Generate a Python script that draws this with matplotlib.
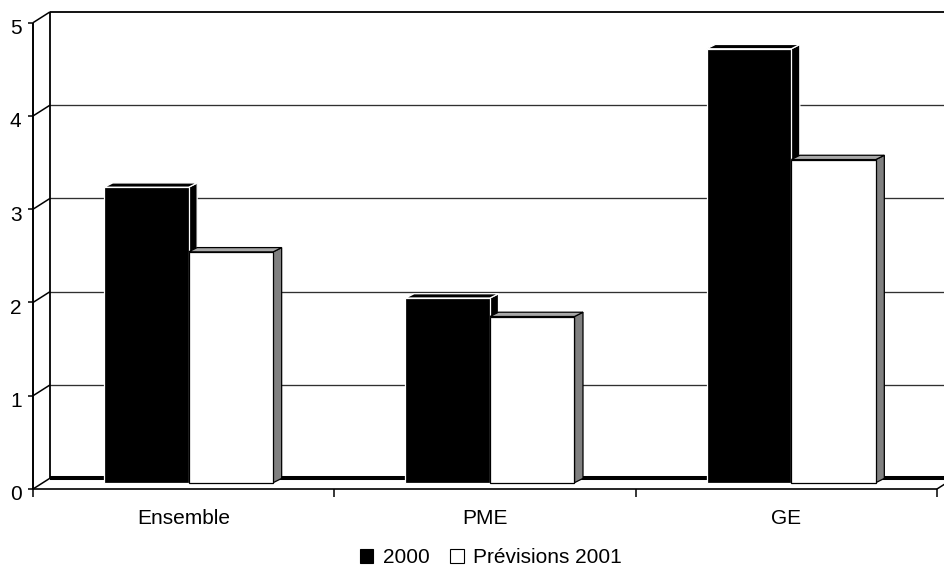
import matplotlib
matplotlib.use("Agg")
import matplotlib.pyplot as plt
from matplotlib.patches import Polygon, Patch

plt.rcParams["font.family"] = ["Liberation Sans", "DejaVu Sans"]

# ---- data ----
categories = ["Ensemble", "PME", "GE"]
series_names = ["2000", "Prévisions 2001"]
values_2000 = [3.2, 2.0, 4.7]
values_2001 = [2.5, 1.8, 3.5]
y_ticks = [0, 1, 2, 3, 4, 5]

# ---- figure / axes (axes fills the canvas; data units = categories / values) ----
W, H, DPI = 944, 569, 100
FS = 15
fig = plt.figure(figsize=(W / DPI, H / DPI), dpi=DPI)
ax = fig.add_axes([0, 0, 1, 1])
ax.set_axis_off()

# pixel -> data conversion for the oblique 3-D look
PX_X = 1 / 301.33     # category units per pixel
PX_Y = 1 / 93.26      # value units per pixel
ax.set_xlim(-33 * PX_X, (W - 33) * PX_X)
ax.set_ylim((489 - H) * PX_Y, 489 * PX_Y)

# wall depth (front -> back offset)
WDX, WDY = 17 * PX_X, 10.8 * PX_Y
# bar geometry
BAR_W = 84.5 * PX_X
SHIFT_X, BASE_Y = 5 * PX_X, 6.3 * PX_Y
BDX, BDY = 8.5 * PX_X, 4.3 * PX_Y
BAR_SCALE = 0.99
ymax = y_ticks[-1]
ncat = len(categories)
xr = ax.get_xlim()[1]

line_kw = dict(color="black", solid_capstyle="butt")

# back wall gridlines
for v in y_ticks[1:-1]:
    ax.plot([WDX, xr], [v + WDY, v + WDY], color="#303030", lw=0.95, zorder=1)
# top edge of the back wall
ax.plot([WDX, xr], [ymax + WDY, ymax + WDY], lw=1.3, zorder=1, **line_kw)
# left wall: back edge and diagonals
ax.plot([WDX, WDX], [WDY, ymax + WDY], lw=1.3, zorder=1, **line_kw)
for v in y_ticks:
    ax.plot([0, WDX], [v, v + WDY], lw=1.1, zorder=1, **line_kw)
# thick back floor edge
ax.plot([WDX, xr], [WDY, WDY], lw=2.9, zorder=2, **line_kw)
# front floor edge and right floor diagonal
ax.plot([0, ncat], [0, 0], lw=1.2, zorder=2, **line_kw)
ax.plot([ncat, ncat + WDX], [0, WDY], lw=1.1, zorder=2, **line_kw)
# front value axis
ax.plot([0, 0], [0, ymax], lw=1.4, zorder=2, **line_kw)

# value ticks and labels
for v in y_ticks:
    ax.plot([-5 * PX_X, 0], [v, v], lw=1.1, **line_kw)
    ax.text(-11.5 * PX_X, v - 11.5 * PX_Y, str(v), ha="right", va="baseline",
            fontsize=FS)
# category ticks and labels
for i in range(ncat + 1):
    ax.plot([i, i], [0, -8 * PX_Y], lw=1.1, **line_kw)
for i, name in enumerate(categories):
    ax.text(i + 0.5, -34.5 * PX_Y, name, ha="center", va="baseline", fontsize=FS)

# bars (front faces via ax.bar, side/top faces as polygons)
styles = [
    dict(front="black", side="black", top="black", edge="white", z=3),
    dict(front="white", side="#808080", top="#a8a8a8", edge="black", z=4),
]
centers = [i + 0.5 + SHIFT_X for i in range(ncat)]
for s, (vals, st) in enumerate(zip([values_2000, values_2001], styles)):
    lefts = [c - BAR_W + s * BAR_W for c in centers]
    heights = [v * BAR_SCALE for v in vals]
    ax.bar(lefts, heights, width=BAR_W, bottom=BASE_Y, align="edge",
           facecolor=st["front"], edgecolor=st["edge"], linewidth=0.9,
           zorder=st["z"] + 0.2)
    for x0, h in zip(lefts, heights):
        x1 = x0 + BAR_W
        y0, y1 = BASE_Y, BASE_Y + h
        side = [(x1, y0), (x1 + BDX, y0 + BDY), (x1 + BDX, y1 + BDY), (x1, y1)]
        top = [(x0, y1), (x1, y1), (x1 + BDX, y1 + BDY), (x0 + BDX, y1 + BDY)]
        ax.add_patch(Polygon(side, closed=True, facecolor=st["side"],
                             edgecolor=st["edge"], linewidth=0.9, zorder=st["z"]))
        ax.add_patch(Polygon(top, closed=True, facecolor=st["top"],
                             edgecolor=st["edge"], linewidth=0.9, zorder=st["z"]))

# legend
handles = [Patch(facecolor="black", edgecolor="black", linewidth=0.8),
           Patch(facecolor="white", edgecolor="black", linewidth=0.8)]
fig.legend(handles, series_names, loc="lower center", ncol=2, frameon=False,
           fontsize=FS, handlelength=0.65, handleheight=0.65,
           handletextpad=0.45, columnspacing=1.0,
           bbox_to_anchor=(0.52, -0.012), borderaxespad=0.0)

fig.savefig("out.png", dpi=DPI)
